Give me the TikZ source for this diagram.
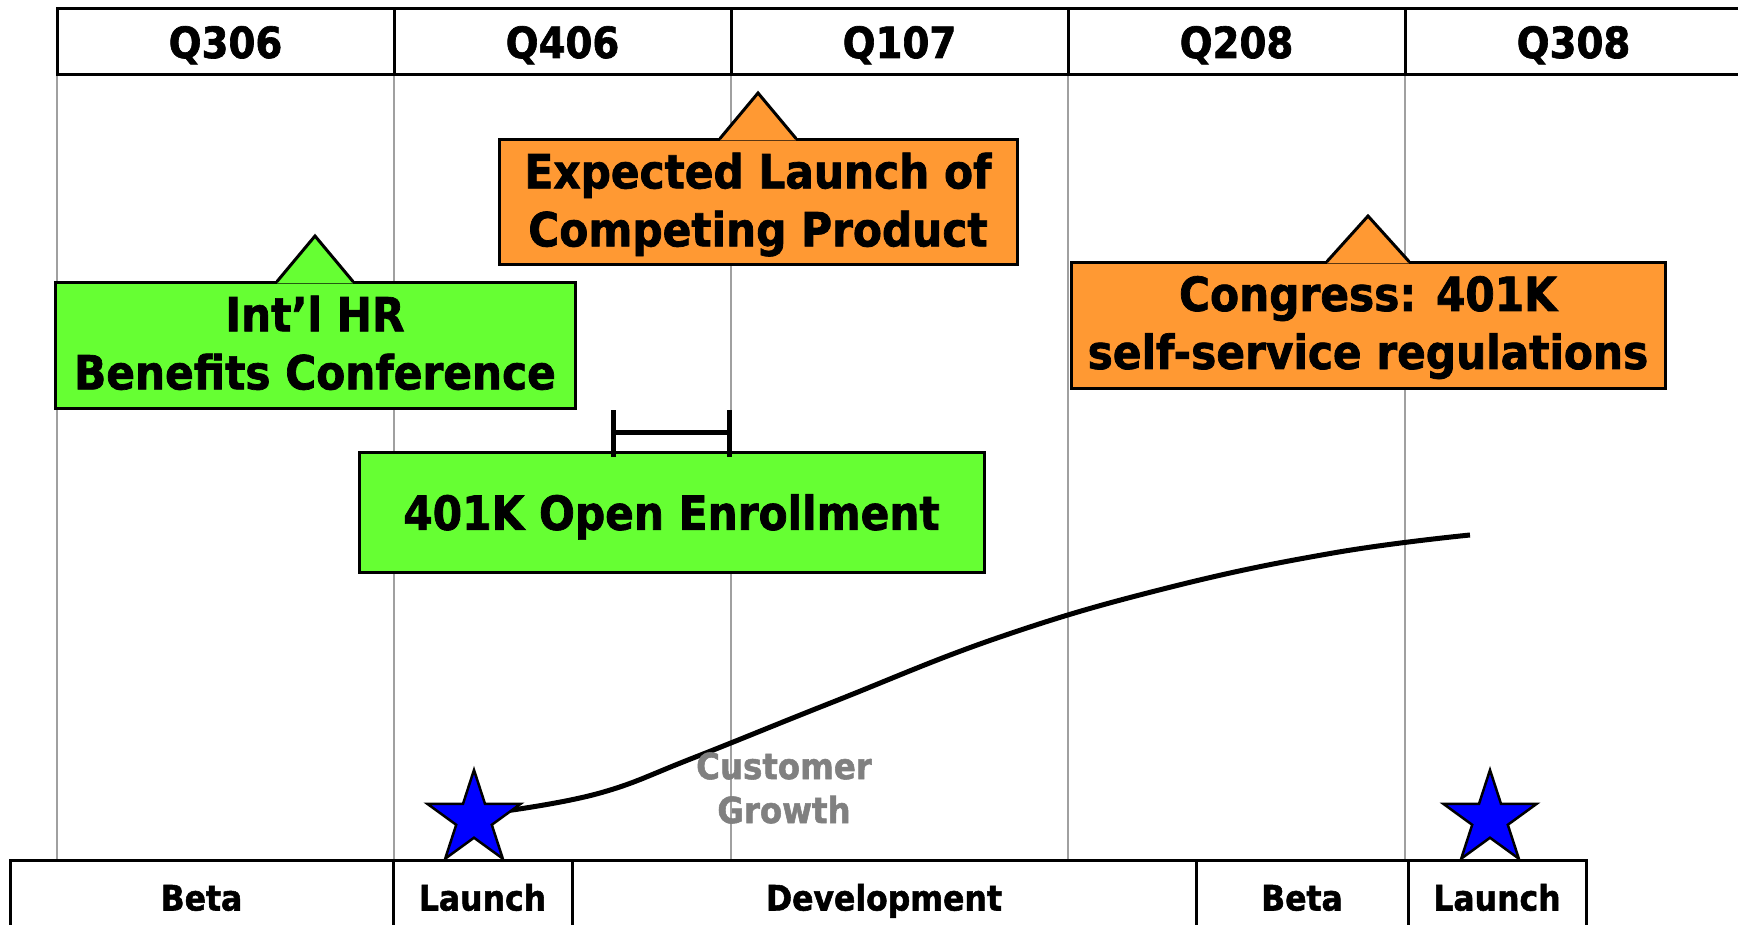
\documentclass[tikz,border=0pt]{standalone}
\usepackage{fontspec}
\setmainfont{DejaVu Sans Condensed}[BoldFeatures={FakeBold=1.5}]
\usetikzlibrary{shapes.geometric}
\definecolor{benefitgreen}{HTML}{66FF33}
\definecolor{eventorange}{HTML}{FF9933}
\definecolor{gridgray}{HTML}{A0A0A0}
\definecolor{growthgray}{HTML}{808080}

\begin{document}
\begin{tikzpicture}[x=1pt,y=-1pt,
  cell/.style={draw,line width=3pt,minimum height=66pt,inner sep=0pt,
    text height=32pt,text depth=0pt,font=\fontsize{43}{50}\selectfont\bfseries},
  phase/.style={draw,line width=3pt,minimum height=75pt,inner sep=0pt,
    text height=26pt,text depth=0pt,font=\fontsize{35}{42}\selectfont\bfseries},
  callout/.style={draw,line width=3pt,inner sep=0pt,align=center,text depth=6pt,
    minimum height=125pt,font=\fontsize{47}{58}\selectfont\bfseries},
  launch/.style={star,star points=5,star point ratio=2.618,minimum size=98pt,
    inner sep=0pt,draw,line width=2.5pt,fill=blue}]
  \useasboundingbox (0,0) rectangle (1738,925);
  \clip (0,0) rectangle (1738,925);

  % quarter grid
  \foreach \x in {57,394,731,1068,1405}
    \draw[gridgray,line width=2pt] (\x,75) -- (\x,860);

  % quarters
  \node[cell,minimum width=337pt] (q306) at (225.5,42) {Q306};
  \node[cell,minimum width=337pt] (q406) at (562.5,42) {Q406};
  \node[cell,minimum width=337pt] (q107) at (899.5,42) {Q107};
  \node[cell,minimum width=337pt] (q208) at (1236.5,42) {Q208};
  \node[cell,minimum width=337pt] (q308) at (1573.5,42) {Q308};

  % product phases
  \node[phase,minimum width=383pt] (beta1) at (201.5,897.5) {Beta};
  \node[phase,minimum width=179pt] (launch1) at (482.5,897.5) {Launch};
  \node[phase,minimum width=624pt] (dev) at (884,897.5) {Development};
  \node[phase,minimum width=212pt] (beta2) at (1302,897.5) {Beta};
  \node[phase,minimum width=178pt] (launch2) at (1497,897.5) {Launch};

  % events
  \node[callout,fill=benefitgreen,minimum width=520pt] (hrconf) at (315,345.5)
    {Int’l HR\\Benefits Conference};
  \node[callout,fill=eventorange,minimum width=518pt] (rival) at (758,202.5)
    {Expected Launch of\\Competing Product};
  \node[callout,fill=eventorange,minimum width=594pt] (congress) at (1368,325.5)
    {Congress: 401K\\self-service regulations};
  \node[callout,fill=benefitgreen,minimum width=625pt,minimum height=120pt,text depth=0pt]
    (enroll) at (671.5,512) {401K Open Enrollment};

  % callout pointers
  \coordinate (hrtip) at (315,236);
  \coordinate (rivaltip) at (758,93);
  \coordinate (congresstip) at (1368,216);
  \fill[benefitgreen] ([xshift=-38pt,yshift=-2pt]hrconf.north) -- (hrtip)
    -- ([xshift=38pt,yshift=-2pt]hrconf.north) -- cycle;
  \draw[line width=3pt] ([xshift=-38pt]hrconf.north) -- (hrtip) -- ([xshift=38pt]hrconf.north);
  \fill[eventorange] ([xshift=-38pt,yshift=-2pt]rival.north) -- (rivaltip)
    -- ([xshift=38pt,yshift=-2pt]rival.north) -- cycle;
  \draw[line width=3pt] ([xshift=-38pt]rival.north) -- (rivaltip) -- ([xshift=38pt]rival.north);
  \fill[eventorange] ([xshift=-41pt,yshift=-2pt]congress.north) -- (congresstip)
    -- ([xshift=41pt,yshift=-2pt]congress.north) -- cycle;
  \draw[line width=3pt] ([xshift=-41pt]congress.north) -- (congresstip) -- ([xshift=41pt]congress.north);

  % enrollment window
  \draw[line width=5pt] (613,410) -- (613,457) (613,432) -- (729,432) (729,410) -- (729,457);

  % growth curve
  \draw[line width=5pt] plot[smooth,tension=0.7] coordinates {(505,811) (600,793)
    (693,758) (833,702) (1000,637) (1167,588) (1333,553) (1470,535)};
  \node[text=growthgray,align=center,font=\fontsize{36}{44}\selectfont\bfseries] (growth)
    at (784,788) {Customer\\Growth};

  \node[launch] (star1) at (474,819) {};
  \node[launch] (star2) at (1490,819) {};
\end{tikzpicture}
\end{document}
